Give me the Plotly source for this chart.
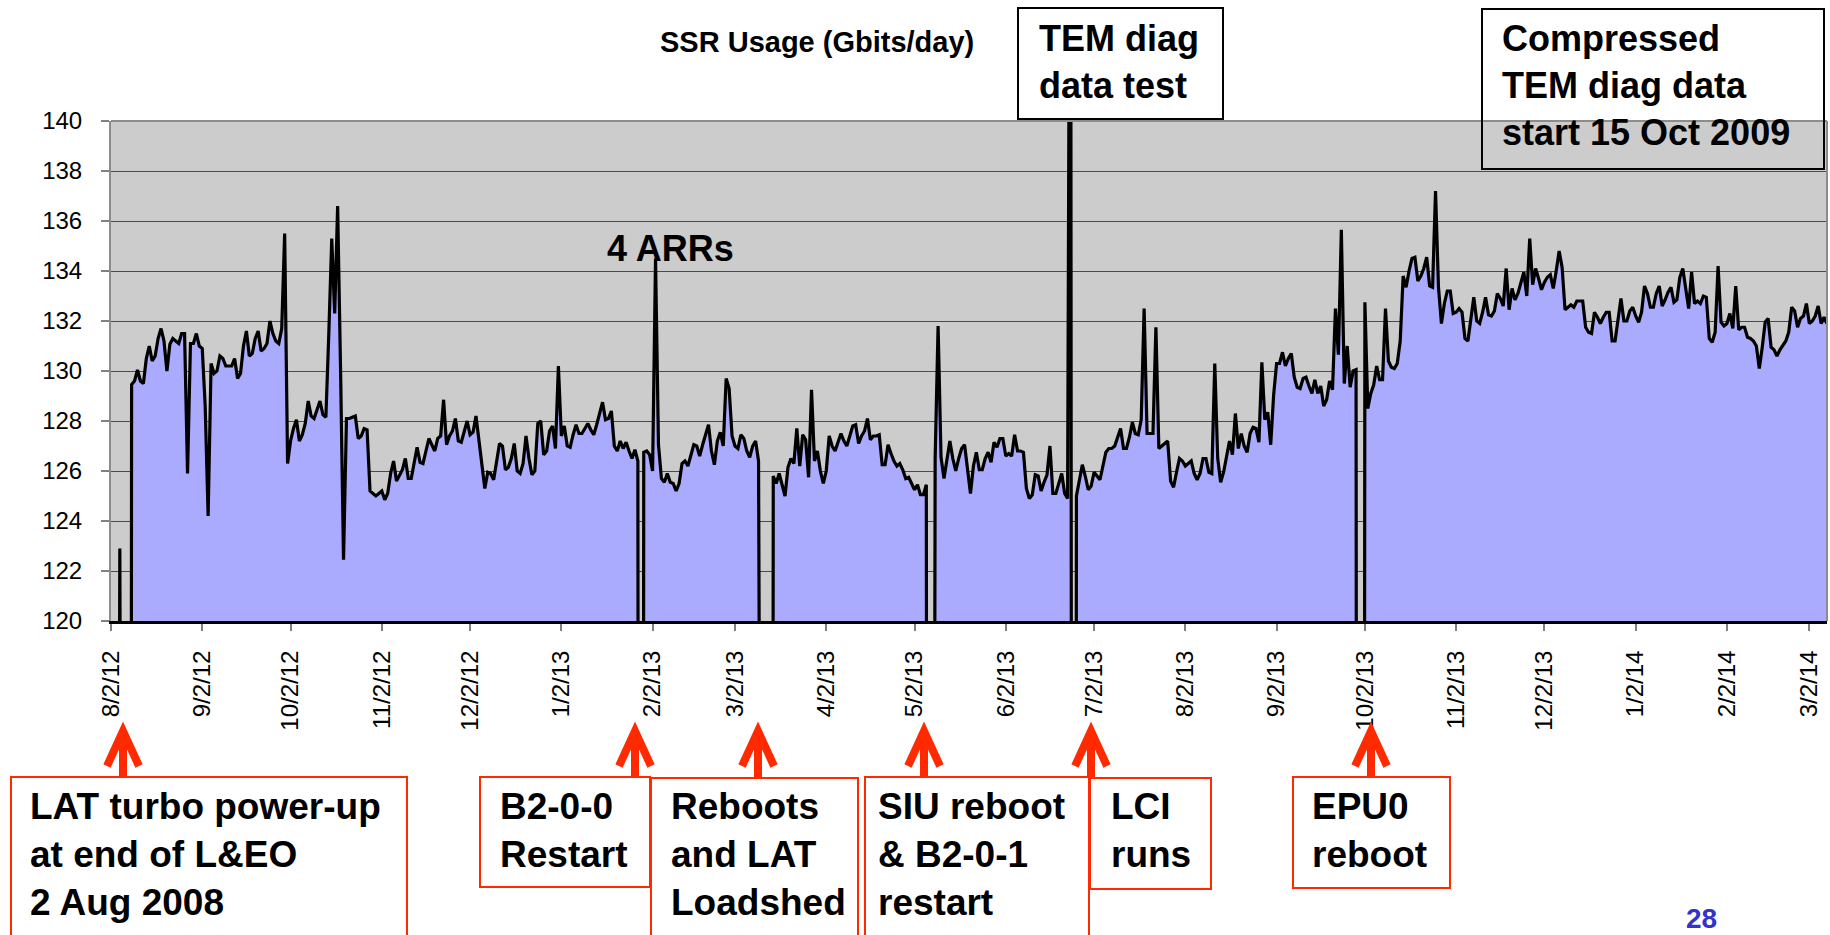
import pandas as pd
import plotly.graph_objects as go

FONT = "Liberation Sans, Arial, Helvetica, sans-serif"

FIRST_DAY = "2012-08-02"
LAST_DAY = "2014-03-08"

# Monthly date ticks and their labels
tick_dates = [
    "2012-08-02", "2012-09-02", "2012-10-02", "2012-11-02", "2012-12-02",
    "2013-01-02", "2013-02-02", "2013-03-02", "2013-04-02", "2013-05-02",
    "2013-06-02", "2013-07-02", "2013-08-02", "2013-09-02", "2013-10-02",
    "2013-11-02", "2013-12-02", "2014-01-02", "2014-02-02", "2014-03-02",
]
tick_text = [
    "8/2/12", "9/2/12", "10/2/12", "11/2/12", "12/2/12",
    "1/2/13", "2/2/13", "3/2/13", "4/2/13", "5/2/13",
    "6/2/13", "7/2/13", "8/2/13", "9/2/13", "10/2/13",
    "11/2/13", "12/2/13", "1/2/14", "2/2/14", "3/2/14",
]

# Daily SSR usage (Gbits/day), one list per run of recorded days.
# Days not covered by a run had no usable dump (plotted as 0, below the axis).
first_light_start = "2012-08-05"
first_light = [122.9]

run_2012_start = "2012-08-09"
run_2012 = [
    129.46, 129.6, 130.04, 129.6, 129.5, 130.5, 131.0, 130.4, 130.6, 131.3,
    131.7, 131.2, 130.0, 131.07, 131.3, 131.2, 131.1, 131.5, 131.5, 125.9,
    131.1, 131.1, 131.5, 131.0, 130.9, 128.6, 124.2, 130.3, 129.9, 130.0,
    130.6, 130.5, 130.2, 130.2, 130.2, 130.5, 129.7, 129.9, 131.0, 131.6,
    130.6, 130.7, 131.3, 131.6, 130.8, 130.9, 131.1, 132.0, 131.5, 131.2,
    131.1, 131.7, 135.5, 126.3, 127.2, 127.7, 128.05, 127.2, 127.45, 127.9,
    128.8, 128.2, 128.1, 128.45, 128.8, 128.25, 128.15, 131.5, 135.3, 132.3,
    136.6, 130.0, 122.45, 128.1, 128.1, 128.15, 128.2, 127.3, 127.4, 127.7,
    127.65, 125.2, 125.1, 125.0, 125.1, 125.2, 124.85, 125.1, 125.9, 126.4,
    125.6, 125.85, 126.05, 126.5, 125.7, 125.7, 126.4, 126.95, 126.35, 126.3,
    126.8, 127.3, 127.05, 126.8, 127.3, 127.4, 128.85, 127.05, 127.4, 127.6,
    128.1, 127.2, 127.15, 127.6, 128.0, 127.45, 127.55, 128.2, 127.2, 126.25,
    125.3, 125.95, 125.9, 125.65, 126.4, 127.1, 127.0, 126.05, 126.15, 126.5,
    127.1, 126.0, 125.9, 126.3, 127.4, 126.5, 125.85, 126.0, 127.9, 128.0,
    126.65, 126.8, 127.6, 127.8, 126.9, 130.2, 127.4, 127.8, 127.0, 126.95,
    127.45, 127.85, 127.5, 127.5, 127.7, 127.9, 127.65, 127.45, 127.85, 128.3,
    128.75, 128.05, 128.1, 128.4, 127.0, 126.8, 127.2, 126.9, 127.15, 126.8,
    126.5, 126.85, 126.4,
]

run_b200_start = "2013-01-30"
run_b200 = [
    126.75, 126.8, 126.65, 126.0, 134.5, 127.05, 125.7, 125.55, 125.9, 125.55,
    125.5, 125.2, 125.5, 126.3, 126.4, 126.2, 126.6, 127.05, 127.0, 126.6,
    127.05, 127.45, 127.85, 126.8, 126.25, 127.2, 127.55, 127.0, 129.7, 129.3,
    127.4, 127.0, 126.9, 127.45, 127.3, 126.8, 126.55, 127.0, 127.2, 126.4,
]

run_loadshed_start = "2013-03-15"
run_loadshed = [
    125.8, 125.5, 125.9, 125.4, 125.0, 126.15, 126.5, 126.3, 127.7, 126.2,
    127.45, 127.25, 125.75, 129.25, 126.4, 126.8, 126.0, 125.5, 126.0, 127.4,
    127.0, 126.8, 127.15, 127.5, 127.2, 127.0, 127.4, 127.8, 127.85, 127.1,
    127.4, 127.6, 128.1, 127.25, 127.4, 127.4, 127.45, 126.25, 126.25, 127.05,
    126.7, 126.4, 126.2, 126.3, 126.05, 125.7, 125.75, 125.5, 125.25, 125.45,
    125.05, 125.05, 125.45,
]

run_b201_start = "2013-05-09"
run_b201 = [
    126.5, 131.8, 126.55, 125.7, 126.5, 127.2, 126.5, 126.0, 126.5, 126.9,
    127.05, 126.0, 125.1, 126.2, 126.75, 126.05, 126.05, 126.5, 126.75, 126.35,
    127.15, 126.95, 127.3, 127.3, 126.6, 126.7, 126.6, 127.45, 126.8, 126.8,
    126.75, 125.3, 124.9, 125.05, 125.85, 125.8, 125.2, 125.55, 125.85, 127.0,
    125.1, 125.1, 125.55, 125.9, 125.1, 124.9, 160.0,
]

run_lci_start = "2013-06-26"
run_lci = [
    125.0, 125.65, 126.25, 125.8, 125.25, 125.4, 125.95, 125.8, 125.65, 126.2,
    126.75, 126.9, 126.9, 127.0, 127.35, 127.7, 126.9, 126.9, 127.35, 127.95,
    127.5, 127.45, 128.05, 132.5, 127.5, 127.5, 127.5, 131.75, 126.9, 127.0,
    127.1, 127.2, 125.6, 125.35, 125.95, 126.5, 126.4, 126.2, 126.3, 126.4,
    125.9, 125.65, 125.9, 126.5, 126.5, 125.95, 125.9, 130.3, 126.5, 125.55,
    125.95, 126.6, 127.2, 126.65, 128.3, 126.9, 127.5, 127.0, 126.75, 127.5,
    127.75, 127.7, 127.15, 130.35, 128.05, 128.35, 127.05, 129.05, 130.3, 130.3,
    130.75, 130.2, 130.5, 130.7, 129.75, 129.35, 129.3, 129.7, 129.75, 129.4,
    129.1, 129.65, 129.1, 129.4, 128.6, 128.85, 129.6, 129.25, 132.5, 130.65,
    135.65, 129.5, 131.0, 129.35, 130.0, 130.05,
]

run_epu0_start = "2013-10-02"
run_epu0 = [
    132.75, 128.5, 129.1, 129.45, 130.2, 129.65, 129.65, 132.5, 130.4, 130.15,
    130.1, 130.3, 131.2,
    133.8, 133.35, 134.0, 134.5, 134.55, 133.6, 133.8, 134.1, 134.55, 133.4,
    133.35, 137.2, 133.35, 131.9, 132.7, 133.2, 133.2, 132.3, 132.35, 132.5,
    132.35, 131.3, 131.2, 132.1, 132.95, 132.0, 131.9, 132.35, 132.95, 132.25,
    132.2, 132.4, 133.1, 132.9, 132.6, 134.1, 132.45, 133.3, 132.85, 133.1,
    133.55, 133.95, 133.0, 135.3, 133.45, 134.1, 133.7, 133.25, 133.55, 133.75,
    133.85, 133.3, 134.0, 134.8, 134.15, 132.45, 132.55, 132.65, 132.55, 132.8,
    132.8, 132.8, 131.75, 131.55, 131.5, 132.35, 132.15, 131.9, 132.15, 132.35,
    132.35, 131.2, 131.2, 132.15, 132.9, 132.0, 132.0, 132.4, 132.55, 132.2,
    131.95, 132.35, 133.4, 133.1, 132.55, 132.55, 133.1, 133.4, 132.6, 132.85,
    133.15, 133.35, 132.75, 132.85, 133.75, 134.1, 133.35, 132.5, 133.95, 132.7,
    132.8, 132.7, 133.0, 132.95, 131.3, 131.15, 131.55, 134.2, 131.95, 131.8,
    131.9, 132.3, 131.7, 133.4, 131.65, 131.75, 131.75, 131.35, 131.3, 131.2,
    131.0, 130.1, 130.95, 131.95, 132.1, 130.95, 130.85, 130.6, 130.85, 131.05,
    131.2, 131.55, 132.55, 132.4, 131.75, 132.1, 132.2, 132.7, 131.9, 132.0,
    132.2, 132.6, 131.9, 132.15, 131.9,
]

runs = [
    (first_light_start, first_light),
    (run_2012_start, run_2012),
    (run_b200_start, run_b200),
    (run_loadshed_start, run_loadshed),
    (run_b201_start, run_b201),
    (run_lci_start, run_lci),
    (run_epu0_start, run_epu0),
]

days = pd.date_range(FIRST_DAY, LAST_DAY, freq="D")
usage = pd.Series(0.0, index=days)
for start, values in runs:
    usage.loc[pd.date_range(start, periods=len(values), freq="D")] = values

# ---- page geometry (pixels) ----
FIG_W, FIG_H = 1830, 935
PLOT_L, PLOT_R, PLOT_T, PLOT_B = 111, 1827, 121, 621


def fx(px):
    return (px - PLOT_L) / (PLOT_R - PLOT_L)


def fy(py):
    return (PLOT_B - py) / (PLOT_B - PLOT_T)


RED = "#FF2A00"

fig = go.Figure()
fig.add_trace(go.Scatter(
    x=usage.index, y=usage.values, mode="lines",
    line=dict(color="black", width=3.2),
    fill="tozeroy", fillcolor="#AAAAFF",
    hoverinfo="skip",
))

shapes = []
annotations = []


def text_block(lines, left, baseline, size, color="black"):
    body = "<br>".join("<b>%s</b>" % s for s in lines)
    annotations.append(dict(
        text=body, xref="paper", yref="paper",
        x=fx(left), y=fy(baseline - 0.905 * size - 1),
        xanchor="left", yanchor="top", align="left", showarrow=False,
        borderpad=0, borderwidth=0,
        font=dict(family=FONT, size=size, color=color),
    ))


def box(x0, y0, x1, y1, color, width=2, fill="rgba(0,0,0,0)"):
    shapes.append(dict(
        type="rect", xref="paper", yref="paper",
        x0=fx(x0), x1=fx(x1), y0=fy(y1), y1=fy(y0),
        line=dict(color=color, width=width), fillcolor=fill, layer="above",
    ))


def up_arrow(x, tip=731, base=778):
    head = "M %f,%f L %f,%f L %f,%f" % (
        fx(x - 16), fy(tip + 35), fx(x), fy(tip), fx(x + 16), fy(tip + 35))
    shaft = "M %f,%f L %f,%f" % (fx(x), fy(tip + 4), fx(x), fy(base))
    for p in (head, shaft):
        shapes.append(dict(type="path", xref="paper", yref="paper", path=p,
                           line=dict(color=RED, width=8), layer="above"))


# plot frame (top and right edges)
shapes.append(dict(type="line", xref="paper", yref="paper", x0=0, x1=1, y0=1, y1=1,
                   line=dict(color="#8c8c8c", width=2), layer="above"))
shapes.append(dict(type="line", xref="paper", yref="paper", x0=1, x1=1, y0=0, y1=1,
                   line=dict(color="#8c8c8c", width=2), layer="above"))

# chart title
text_block(["SSR Usage (Gbits/day)"], 660, 53, 29)

# callouts above the plot
box(1018, 8, 1223, 119, "black", fill="white")
text_block(["TEM diag", "data test"], 1039, 52, 36)
box(1482, 9, 1824, 169, "black")
text_block(["Compressed", "TEM diag data", "start 15 Oct 2009"], 1502, 52, 36)
text_block(["4 ARRs"], 607, 262, 36)

# event callouts below the axis
events = [
    (123, (11, 777, 407, 960), ["LAT turbo power-up", "at end of L&amp;EO", "2 Aug 2008"], 30),
    (635, (480, 777, 650, 887), ["B2-0-0", "Restart"], 500),
    (758, (651, 778, 858, 960), ["Reboots", "and LAT", "Loadshed"], 671),
    (924, (865, 777, 1089, 960), ["SIU reboot", "&amp; B2-0-1", "restart"], 878),
    (1091, (1090, 778, 1211, 889), ["LCI", "runs"], 1111),
    (1371, (1293, 777, 1450, 888), ["EPU0", "reboot"], 1312),
]
for arrow_x, (bx0, by0, bx1, by1), lines, text_left in events:
    box(bx0, by0, bx1, by1, RED, fill="white")
    text_block(lines, text_left, 820, 37)
    up_arrow(arrow_x)

# slide number
text_block(["28"], 1686, 929, 28, color="#3333CC")

fig.update_layout(
    width=FIG_W, height=FIG_H,
    margin=dict(l=PLOT_L, r=FIG_W - PLOT_R, t=PLOT_T, b=FIG_H - PLOT_B, pad=0),
    paper_bgcolor="white", plot_bgcolor="#CCCCCC",
    showlegend=False,
    shapes=shapes, annotations=annotations,
    xaxis=dict(
        type="date", range=[FIRST_DAY, LAST_DAY],
        tickvals=tick_dates, ticktext=tick_text, tickangle=-90,
        ticks="outside", ticklen=7, tickwidth=1.5, tickcolor="#808080",
        ticklabelstandoff=10,
        showgrid=False, zeroline=False,
        showline=True, linecolor="black", linewidth=3,
        tickfont=dict(family=FONT, size=24, color="black"),
    ),
    yaxis=dict(
        range=[120, 140], tick0=120, dtick=2,
        ticks="outside", ticklen=8, tickwidth=1.5, tickcolor="#808080",
        ticklabelstandoff=14,
        showgrid=True, gridcolor="#4a4a4a", gridwidth=1, zeroline=False,
        showline=True, linecolor="#8c8c8c", linewidth=2,
        tickfont=dict(family=FONT, size=24, color="black"),
    ),
)

fig.write_html("out.html", config={"displayModeBar": False})
